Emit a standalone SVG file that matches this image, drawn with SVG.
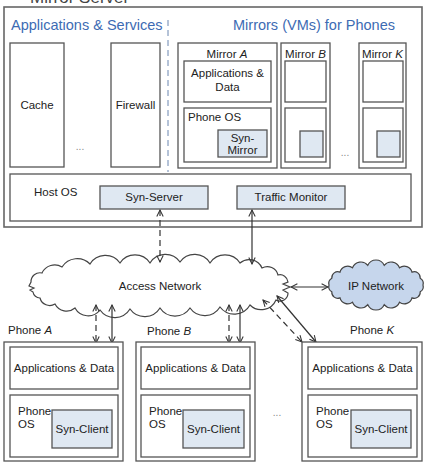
<svg xmlns="http://www.w3.org/2000/svg" width="427" height="469" viewBox="0 0 427 469">
<style>
text{font-family:"Liberation Sans",Arial,sans-serif;font-size:11.5px;fill:#222}
.t{font-size:14.5px;fill:#3d6bb3}
.c{text-anchor:middle}
.box{fill:#fff;stroke:#555;stroke-width:1.3}
.syn{fill:#dfe8f2;stroke:#555;stroke-width:1.3}
.dots{font-size:10px;fill:#888}
.ln{stroke:#333;stroke-width:1.2;fill:none}
.dash{stroke-dasharray:6,4}
</style>
<defs>
<marker id="ah" viewBox="0 0 10 10" refX="9" refY="5" markerWidth="8" markerHeight="8" markerUnits="userSpaceOnUse" orient="auto-start-reverse">
<path d="M1,1 L9,5 L1,9" fill="none" stroke="#333" stroke-width="1.3"/>
</marker>
</defs>
<rect width="427" height="469" fill="#fff"/>
<text x="30" y="3" style="font-size:17px;fill:#444">Mirror Server</text>

<g id="server">
<rect x="4" y="7" width="418" height="220" class="box" style="stroke:#666;stroke-width:1.6"/>
<text x="11" y="30" class="t">Applications &amp; Services</text>
<text x="314" y="30" class="t c">Mirrors (VMs) for Phones</text>
<line x1="168" y1="20" x2="168" y2="172" stroke="#6b86b0" stroke-width="1" stroke-dasharray="6,4"/>
</g>
<g id="cache">
<rect x="10" y="43" width="54" height="124" class="box"/>
<text x="37" y="109" class="c">Cache</text>
</g>
<text x="80" y="150" class="dots c">...</text>
<g id="firewall">
<rect x="111" y="43" width="49" height="124" class="box"/>
<text x="135.5" y="109" class="c">Firewall</text>
</g>
<g id="mirrorA">
<rect x="178" y="43" width="99" height="125" class="box"/>
<text x="227" y="58" class="c">Mirror <tspan font-style="italic">A</tspan></text>
<rect x="184" y="61" width="87" height="41" class="box"/>
<text x="227.5" y="77" class="c">Applications &amp;</text>
<text x="227.5" y="91" class="c">Data</text>
<rect x="184" y="108" width="87" height="54" class="box"/>
<text x="188" y="121">Phone OS</text>
<rect x="218" y="130" width="49" height="27" class="syn"/>
<text x="242.5" y="142" class="c">Syn-</text>
<text x="242.5" y="154" class="c">Mirror</text>
</g>
<g id="mirrorB">
<rect x="281" y="43" width="49" height="125" class="box"/>
<text x="305.5" y="58" class="c">Mirror <tspan font-style="italic">B</tspan></text>
<rect x="285" y="61" width="41" height="41" class="box"/>
<rect x="285" y="108" width="41" height="54" class="box"/>
<rect x="300" y="131" width="23" height="26" class="syn"/>
</g>
<text x="345" y="156" class="dots c">...</text>
<g id="mirrorK">
<rect x="359" y="43" width="47" height="125" class="box"/>
<text x="382.5" y="58" class="c">Mirror <tspan font-style="italic">K</tspan></text>
<rect x="363" y="61" width="40" height="41" class="box"/>
<rect x="363" y="108" width="40" height="54" class="box"/>
<rect x="377" y="131" width="23" height="26" class="syn"/>
</g>
<g id="hostos">
<rect x="10" y="174" width="401" height="47" class="box"/>
<text x="34" y="196">Host OS</text>
</g>
<g id="synserver">
<rect x="100" y="186" width="108" height="23" class="syn"/>
<text x="154" y="201" class="c">Syn-Server</text>
</g>
<g id="trafficmonitor">
<rect x="237" y="186" width="108" height="23" class="syn"/>
<text x="291" y="201" class="c">Traffic Monitor</text>
</g>

<g id="accessnetwork">
<path fill="#fff" stroke="#444" stroke-width="1.2" d="M31,282 A9,9 0 0 1 42,273 A14,14 0 0 1 62,267 A18,18 0 0 1 90,264 A18,18 0 0 1 120,263 A18,18 0 0 1 150,263 A18,18 0 0 1 180,262 A18,18 0 0 1 210,263 A18,18 0 0 1 240,263 A14,14 0 0 1 262,268 A11,11 0 0 1 278,275 A8,8 0 0 1 288,282 L283,284 L290,287 L283,290 L288,293 A8,8 0 0 1 276,300 A16,16 0 0 1 250,305 A18,18 0 0 1 220,307 A18,18 0 0 1 190,308 A18,18 0 0 1 160,308 A18,18 0 0 1 130,309 A18,18 0 0 1 100,310 A15,15 0 0 1 75,308 A13,13 0 0 1 55,304 A10,10 0 0 1 40,298 A7,7 0 0 1 33,292 L30,290 L34,288 L29,286 Z"/>
<text x="160" y="290" class="c">Access Network</text>
</g>
<g id="ipnetwork">
<path fill="#c6d6ec" stroke="#444" stroke-width="1.2" d="M423,285 A6,6 0 0 1 420.2,291.8 A6,6 0 0 1 412,297.9 A8,8 0 0 1 399.5,302.3 A9,9 0 0 1 384.2,304.7 A9,9 0 0 1 367.8,304.7 A9,9 0 0 1 352.5,302.3 A8,8 0 0 1 340,297.9 A6,6 0 0 1 331.8,291.8 A6,6 0 0 1 329,285 A6,6 0 0 1 331.8,278.2 A6,6 0 0 1 340,272.1 A8,8 0 0 1 352.5,267.7 A9,9 0 0 1 367.8,265.3 A9,9 0 0 1 384.2,265.3 A9,9 0 0 1 399.5,267.7 A8,8 0 0 1 412,272.1 A6,6 0 0 1 420.2,278.2 A6,6 0 0 1 423,285 Z"/>
<text x="376" y="290" class="c">IP Network</text>
</g>

<g id="connectors">
<line x1="160" y1="210" x2="160" y2="262" class="ln dash" marker-start="url(#ah)" marker-end="url(#ah)"/>
<line x1="252" y1="210" x2="252" y2="264" class="ln" marker-start="url(#ah)" marker-end="url(#ah)"/>
<line x1="291" y1="287" x2="328" y2="287" class="ln" marker-start="url(#ah)" marker-end="url(#ah)"/>
<line x1="96" y1="305" x2="96" y2="343" class="ln dash" marker-start="url(#ah)" marker-end="url(#ah)"/>
<line x1="112" y1="305" x2="112" y2="343" class="ln" marker-start="url(#ah)" marker-end="url(#ah)"/>
<line x1="229" y1="305" x2="229" y2="343" class="ln dash" marker-start="url(#ah)" marker-end="url(#ah)"/>
<line x1="240" y1="305" x2="240" y2="343" class="ln" marker-start="url(#ah)" marker-end="url(#ah)"/>
<line x1="263" y1="300" x2="302" y2="342" class="ln dash" marker-start="url(#ah)" marker-end="url(#ah)"/>
<line x1="277" y1="296" x2="316" y2="342" class="ln" marker-start="url(#ah)" marker-end="url(#ah)"/>
</g>

<g id="phoneA">
<text x="8" y="334">Phone <tspan font-style="italic">A</tspan></text>
<rect x="4" y="342" width="119" height="119" class="box"/>
<rect x="10" y="347" width="108" height="42" class="box"/>
<text x="64" y="372" class="c">Applications &amp; Data</text>
<rect x="10" y="395" width="108" height="62" class="box"/>
<text x="18" y="415">Phone</text>
<text x="18" y="428">OS</text>
<rect x="52" y="410" width="60" height="38" class="syn"/>
<text x="82" y="433" class="c">Syn-Client</text>
</g>
<g id="phoneB">
<text x="147" y="335">Phone <tspan font-style="italic">B</tspan></text>
<rect x="136" y="342" width="119" height="119" class="box"/>
<rect x="141" y="347" width="109" height="42" class="box"/>
<text x="195.5" y="372" class="c">Applications &amp; Data</text>
<rect x="141" y="395" width="109" height="62" class="box"/>
<text x="149" y="415">Phone</text>
<text x="149" y="428">OS</text>
<rect x="183" y="410" width="61" height="38" class="syn"/>
<text x="213.5" y="433" class="c">Syn-Client</text>
</g>
<text x="277" y="416" class="dots c">...</text>
<g id="phoneK">
<text x="350" y="334">Phone <tspan font-style="italic">K</tspan></text>
<rect x="302" y="342" width="120" height="119" class="box"/>
<rect x="308" y="347" width="109" height="42" class="box"/>
<text x="362.5" y="372" class="c">Applications &amp; Data</text>
<rect x="308" y="395" width="109" height="62" class="box"/>
<text x="316" y="415">Phone</text>
<text x="316" y="428">OS</text>
<rect x="351" y="410" width="60" height="38" class="syn"/>
<text x="381" y="433" class="c">Syn-Client</text>
</g>
</svg>
